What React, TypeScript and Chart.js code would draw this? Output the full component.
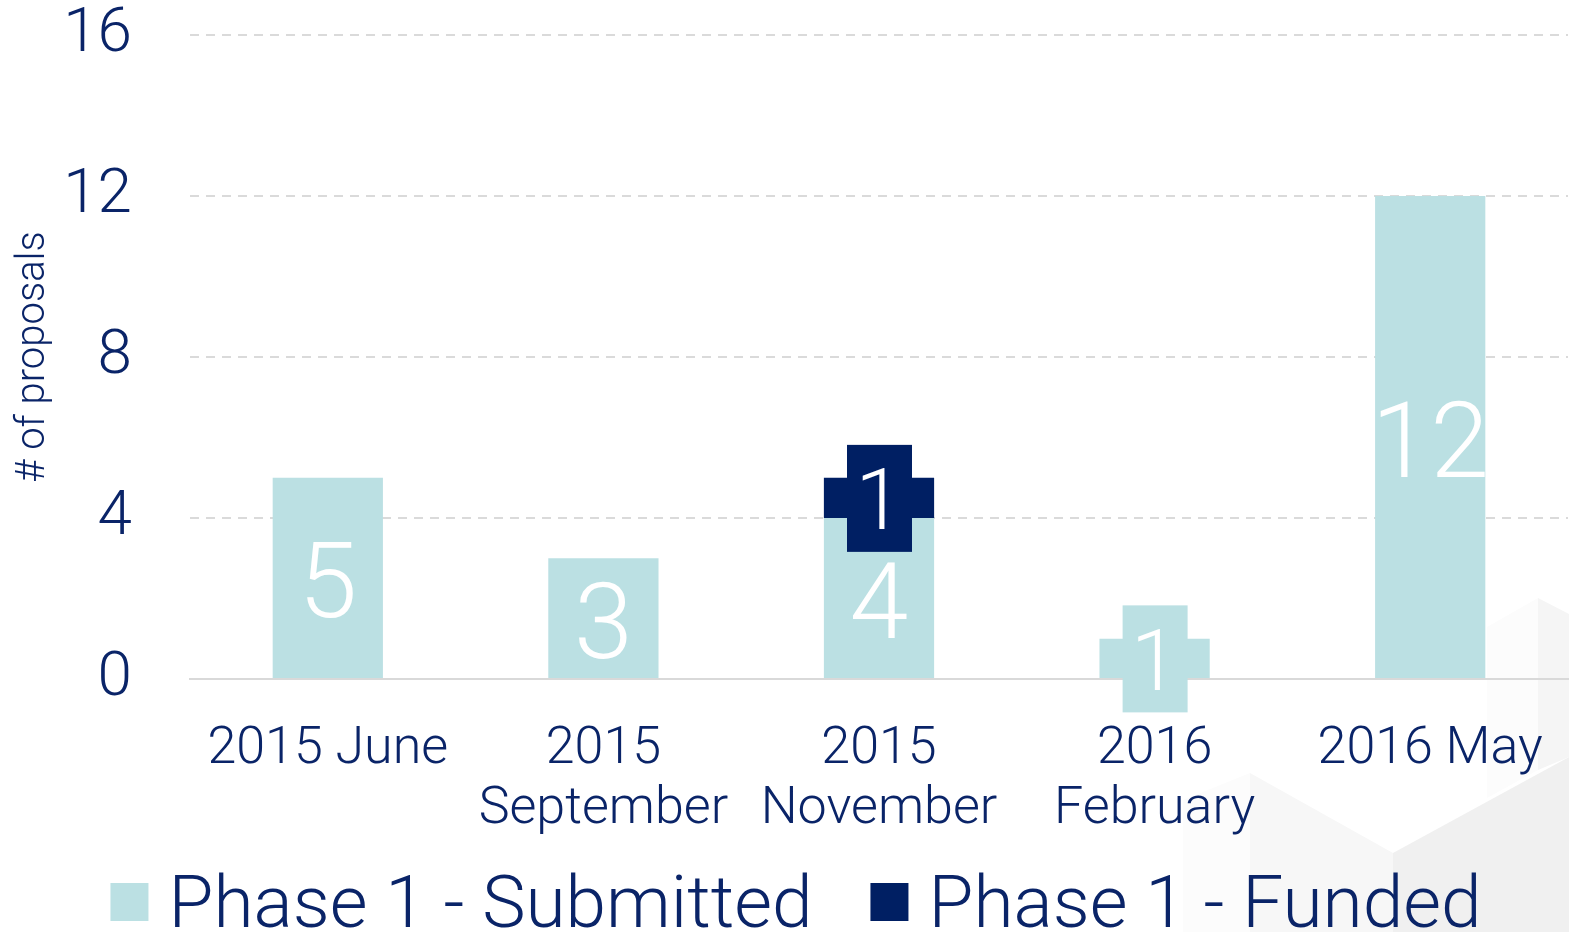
import React, { useEffect, useRef } from "react";
import { Chart, registerables } from "chart.js";

Chart.register(...registerables);

const categories: (string | string[])[] = [
  "2015 June",
  ["2015", "September"],
  ["2015", "November"],
  ["2016", "February"],
  "2016 May",
];
const submitted = [5, 3, 4, 1, 12];
const funded = [0, 0, 1, 0, 0];
const seriesNames = ["Phase 1 - Submitted", "Phase 1 - Funded"];
const yTicks = [0, 4, 8, 12, 16];

const TEAL = "#bbe0e3";
const NAVY = "#001f63";
const TEXT = "#0a2468";
const FONT = "Roboto, 'Noto Sans', sans-serif";

const backgroundDeco = {
  id: "bgDeco",
  beforeDraw(chart: any) {
    const ctx = chart.ctx;
    ctx.save();
    const polys: [string, number[][]][] = [
      ["#fcfcfc", [[1183, 800], [1250, 773], [1250, 932], [1183, 932]]],
      ["#f7f7f7", [[1250, 773], [1393, 853], [1393, 932], [1250, 932]]],
      ["#f0f0f0", [[1393, 853], [1569, 757], [1569, 932], [1393, 932]]],
      ["#fcfcfc", [[1487, 627], [1538, 598], [1538, 770], [1487, 798]]],
      ["#f5f5f5", [[1538, 598], [1569, 614], [1569, 757], [1538, 770]]],
    ];
    for (const [c, pts] of polys) {
      ctx.fillStyle = c;
      ctx.beginPath();
      pts.forEach((p, i) => (i ? ctx.lineTo(p[0], p[1]) : ctx.moveTo(p[0], p[1])));
      ctx.closePath();
      ctx.fill();
    }
    ctx.restore();
  },
};

const barLabels = {
  id: "barLabels",
  afterDatasetsDraw(chart: any) {
    const ctx = chart.ctx;
    chart.data.datasets.forEach((ds: any, di: number) => {
      const meta = chart.getDatasetMeta(di);
      meta.data.forEach((bar: any, j: number) => {
        const v = ds.data[j];
        if (!v) return;
        const top = Math.min(bar.y, bar.base);
        const bottom = Math.max(bar.y, bar.base);
        const h = bottom - top;
        const cx = bar.x;
        const cy = (top + bottom) / 2;
        const left = cx - bar.width / 2;
        ctx.save();
        ctx.textAlign = "center";
        ctx.textBaseline = "middle";
        ctx.fillStyle = "#ffffff";
        if (h >= 70) {
          ctx.beginPath();
          ctx.rect(left, top, bar.width, h);
          ctx.clip();
          ctx.font = `300 106px ${FONT}`;
          ctx.fillText(String(v), cx, cy + 13);
        } else {
          ctx.fillStyle = ds.backgroundColor;
          ctx.fillRect(cx - 32, cy - 53, 65, 107);
          ctx.fillStyle = "#ffffff";
          ctx.font = `300 86px ${FONT}`;
          ctx.fillText(String(v), cx, cy + 10);
        }
        ctx.restore();
      });
    });
  },
};

const customLegend = {
  id: "customLegend",
  afterDraw(chart: any) {
    const ctx = chart.ctx;
    ctx.save();
    ctx.font = `300 73px ${FONT}`;
    ctx.textBaseline = "alphabetic";
    ctx.textAlign = "left";
    const box = 38;
    const gap = 20;
    const itemGap = 58;
    const items = chart.data.datasets.map((ds: any) => ({
      text: ds.label,
      color: ds.backgroundColor,
      w: box + gap + ctx.measureText(ds.label).width,
    }));
    const total = items.reduce((s: number, it: any) => s + it.w, 0) + itemGap * (items.length - 1);
    let x = 796 - total / 2;
    for (const it of items) {
      ctx.fillStyle = it.color;
      ctx.fillRect(x, 883, box, box);
      ctx.fillStyle = TEXT;
      ctx.fillText(it.text, x + box + gap, 927);
      x += it.w + itemGap;
    }
    ctx.restore();
  },
};

export default function App() {
  const ref = useRef<HTMLCanvasElement>(null);
  useEffect(() => {
    document.body.style.margin = "0";
    const chart = new Chart(ref.current!, {
      type: "bar",
      data: {
        labels: categories,
        datasets: [
          { label: seriesNames[0], data: submitted, backgroundColor: TEAL, barPercentage: 0.4, categoryPercentage: 1 },
          { label: seriesNames[1], data: funded, backgroundColor: NAVY, barPercentage: 0.4, categoryPercentage: 1 },
        ],
      },
      options: {
        animation: false,
        responsive: false,
        layout: { padding: { top: 35, right: 1, left: 0, bottom: 0 } },
        plugins: { legend: { display: false }, tooltip: { enabled: false } },
        scales: {
          x: {
            stacked: true,
            grid: { display: false, drawTicks: false },
            border: { display: true, color: "#d9d9d9", width: 2 },
            ticks: {
              color: TEXT,
              font: { family: FONT, size: 52, weight: "300", lineHeight: 1.16 },
              padding: 41,
              maxRotation: 0,
              autoSkip: false,
            },
            afterFit(scale: any) {
              scale.height = 932 - 679;
              scale.paddingLeft = 0;
              scale.paddingRight = 0;
            },
          },
          y: {
            stacked: true,
            min: 0,
            max: 16,
            afterBuildTicks(scale: any) {
              scale.ticks = yTicks.map((v) => ({ value: v }));
            },
            grid: { color: "#dadada", lineWidth: 2, drawTicks: false },
            border: { display: false, dash: [9, 7] },
            ticks: {
              color: TEXT,
              font: { family: FONT, size: 62, weight: "300", lineHeight: 1 },
              padding: 58,
            },
            title: {
              display: true,
              text: "# of proposals",
              color: TEXT,
              font: { family: FONT, size: 40, weight: "300", lineHeight: 1.2 },
              padding: { top: 10, bottom: 0 },
            },
            afterFit(scale: any) {
              scale.width = 190;
              scale.paddingTop = 0;
              scale.paddingBottom = 0;
            },
          },
        },
      },
      plugins: [backgroundDeco, barLabels, customLegend],
    });
    return () => chart.destroy();
  }, []);
  return (
    <div style={{ position: "absolute", left: 0, top: 0, width: 1569, height: 932 }}>
      <canvas ref={ref} width={1569} height={932} />
    </div>
  );
}
